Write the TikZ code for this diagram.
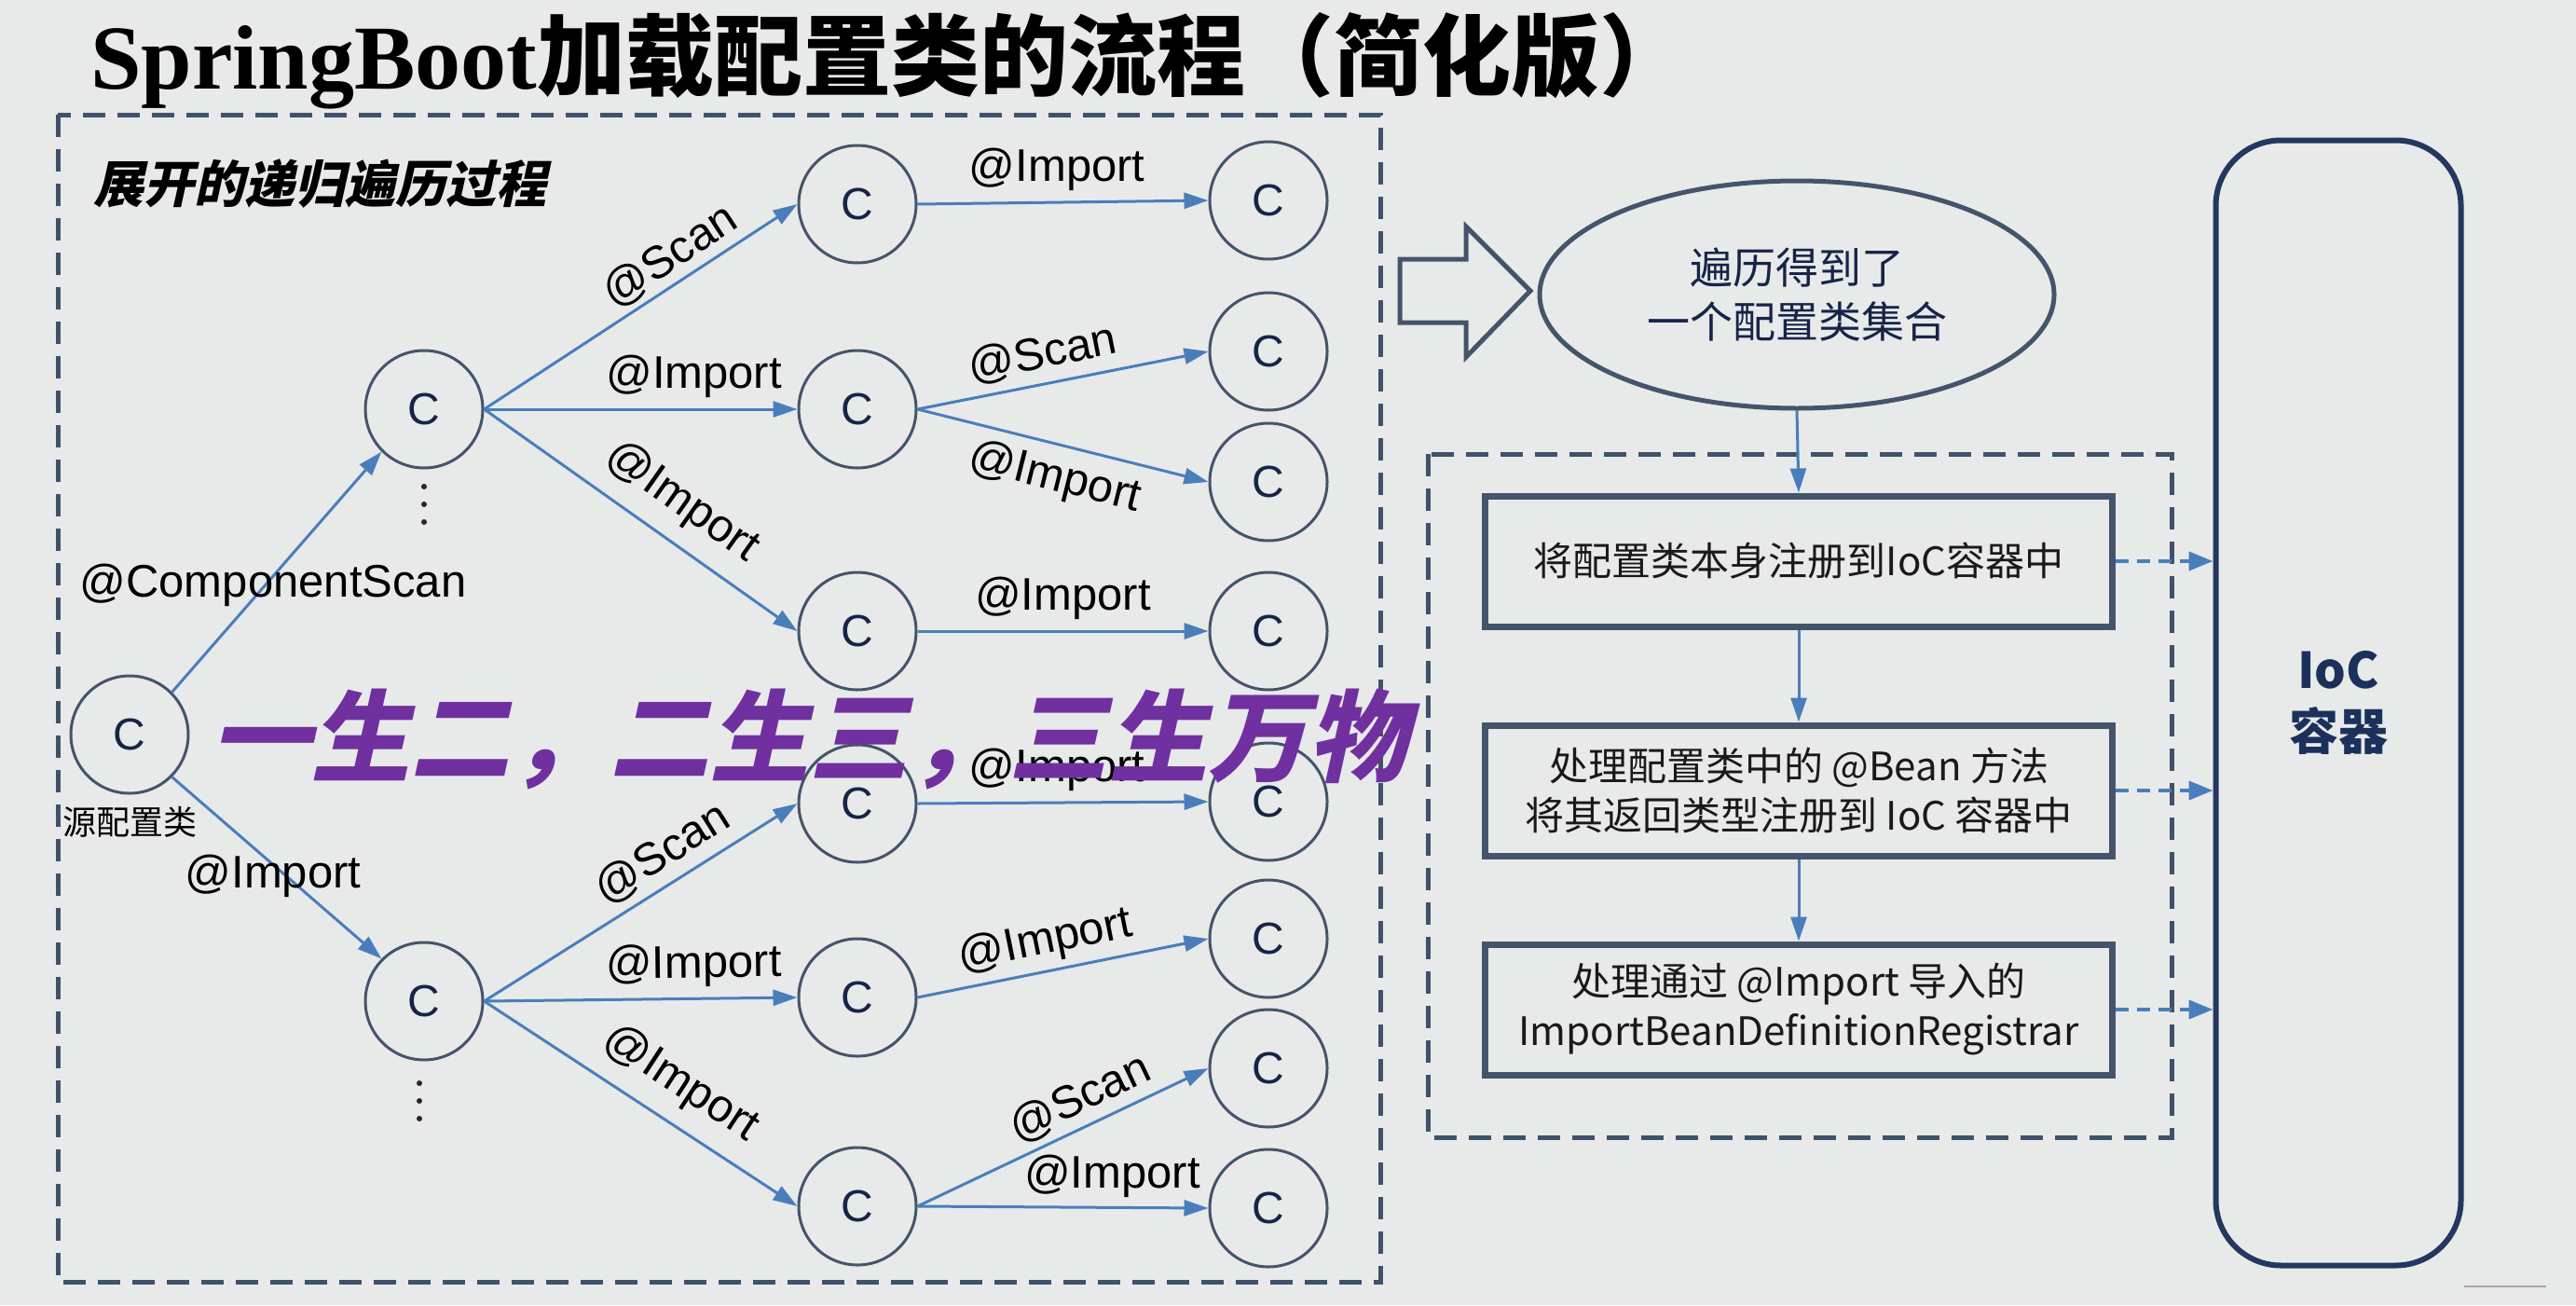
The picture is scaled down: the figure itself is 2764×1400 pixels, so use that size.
\documentclass[tikz,border=0pt]{standalone}
\usepackage{fontspec}
\setmainfont{Liberation Sans}
\newfontfamily\cjk{Noto Sans CJK SC}
\newfontfamily\cjksl[FakeSlant=0.22]{Noto Sans CJK SC}
\newfontfamily\serifT{Liberation Serif}
\usetikzlibrary{arrows.meta,shapes.geometric,calc}
\definecolor{bg}{RGB}{232,234,234}
\definecolor{slate}{RGB}{68,84,106}
\definecolor{steel}{RGB}{74,126,187}
\definecolor{navy}{RGB}{22,36,72}
\definecolor{dashc}{RGB}{63,82,105}
\definecolor{purp}{RGB}{112,48,160}
\definecolor{iocnavy}{RGB}{28,48,92}
\tikzset{
  cnode/.style={circle, draw=slate, line width=3pt, minimum size=126pt, inner sep=0pt,
    font=\fontsize{48}{50}\selectfont, text=navy},
  edge/.style={draw=steel, line width=3pt, -{Triangle[length=26pt,width=17pt]}},
  lbl/.style={font=\fontsize{49}{52}\selectfont, inner sep=3pt, text=black},
  stepbox/.style={draw=slate, line width=7pt, minimum width=673pt, minimum height=140pt,
    inner sep=0pt, align=center, font=\cjk\fontsize{42}{53}\selectfont, text=black!90},
  dashbox/.style={draw=dashc, line width=5pt, dash pattern=on 24pt off 13pt},
  dedge/.style={draw=steel, line width=4pt, dash pattern=on 14pt off 9pt, -{Triangle[length=26pt,width=20pt]}},
  vedge/.style={draw=steel, line width=3pt, -{Triangle[length=26pt,width=17pt]}},
  dotc/.style={circle, fill=black!85, inner sep=0pt, minimum size=6pt}
}
\begin{document}
\begin{tikzpicture}[x=1pt,y=-1pt]
\useasboundingbox (0,0) rectangle (2764,1400);
\fill[bg] (0,0) rectangle (2764,1400);

% title
\node[anchor=base west, inner sep=0pt] (title) at (97,95)
  {{\serifT\bfseries\fontsize{98}{100}\selectfont SpringBoot}{\cjk\bfseries\fontsize{95}{100}\selectfont 加载配置类的流程（简化版）}};

% outer dashed box
\draw[dashbox] (62,123) rectangle (1481,1375);
\node[anchor=west, inner sep=0pt, font=\cjksl\bfseries\fontsize{54}{56}\selectfont] (sub) at (100,197) {展开的递归遍历过程};

% circles
\node[cnode] (S) at (139,788) {C};
\node[inner sep=0pt, font=\cjk\fontsize{36}{38}\selectfont] (Slbl) at (139,882) {源配置类};
\node[cnode] (A) at (455,439) {C};
\node[cnode] (B) at (455,1074) {C};
\node[cnode] (a1) at (920,219) {C};
\node[cnode] (a2) at (920,439) {C};
\node[cnode] (a3) at (920,677) {C};
\node[cnode] (b1) at (920,862) {C};
\node[cnode] (b2) at (920,1070) {C};
\node[cnode] (b3) at (920,1294) {C};
\node[cnode] (a1a) at (1361,215) {C};
\node[cnode] (a2a) at (1361,377) {C};
\node[cnode] (a2b) at (1361,517) {C};
\node[cnode] (a3a) at (1361,677) {C};
\node[cnode] (b1a) at (1361,860) {C};
\node[cnode] (b2a) at (1361,1007) {C};
\node[cnode] (b3a) at (1361,1146) {C};
\node[cnode] (b3b) at (1361,1296) {C};

% vertical dots
\node[dotc] (dA1) at (455,522) {};
\node[dotc] (dA2) at (455,541) {};
\node[dotc] (dA3) at (455,560) {};
\node[dotc] (dB1) at (450,1162) {};
\node[dotc] (dB2) at (450,1181) {};
\node[dotc] (dB3) at (450,1200) {};

% edges level 1
\draw[edge] (S.45) -- (A.225);
\draw[edge] (S.-45) -- (B.135);
\node[lbl] (lcs) at (293,628) {@ComponentScan};
\node[lbl] (lim) at (293,940) {@Import};

% edges level 2
\draw[edge] (A.east) -- node[lbl, sloped, above=2pt, pos=0.64] {@Scan} (a1.west);
\draw[edge] (A.east) -- node[lbl, sloped, above=8pt, pos=0.67] {@Import} (a2.west);
\draw[edge] (A.east) -- node[lbl, sloped, above=14pt, pos=0.56] {@Import} (a3.west);
\draw[edge] (B.east) -- node[lbl, sloped, above=6pt, pos=0.62] {@Scan} (b1.west);
\draw[edge] (B.east) -- node[lbl, sloped, above=8pt, pos=0.67] {@Import} (b2.west);
\draw[edge] (B.east) -- node[lbl, sloped, above=14pt, pos=0.56] {@Import} (b3.west);

% edges level 3
\draw[edge] (a1.east) -- node[lbl, above=8pt, pos=0.48] {@Import} (a1a.west);
\draw[edge] (a2.east) -- node[lbl, sloped, above=6pt, pos=0.45] {@Scan} (a2a.west);
\draw[edge] (a2.east) -- node[lbl, sloped, below=9pt, pos=0.5] {@Import} (a2b.west);
\draw[edge] (a3.east) -- node[lbl, above=8pt, pos=0.5] {@Import} (a3a.west);
\draw[edge] (b1.east) -- node[lbl, above=8pt, pos=0.48] {@Import} (b1a.west);
\draw[edge] (b2.east) -- node[lbl, sloped, above=4pt, pos=0.46] {@Import} (b2a.west);
\draw[edge] (b3.east) -- node[lbl, sloped, above=4pt, pos=0.6] {@Scan} (b3a.west);
\draw[edge] (b3.east) -- node[lbl, above=6pt, pos=0.67] {@Import} (b3b.west);

% purple slogan
\node[anchor=west, inner sep=0pt, text=purp, font=\cjksl\bfseries\fontsize{107}{110}\selectfont] (slogan) at (226,793) {一生二，二生三，三生万物};

% right part
\draw[draw=slate, line width=5pt, line join=miter] (1502,278) -- (1573,278) -- (1573,243) -- (1642,312) -- (1573,383) -- (1573,346) -- (1502,346) -- cycle;
\node[ellipse, draw=slate, line width=5pt, minimum width=552pt, minimum height=244pt, inner sep=0pt,
  align=center, text=navy, font=\cjk\fontsize{46}{58}\selectfont] (set) at (1928,316) {遍历得到了\\一个配置类集合};

\draw[dashbox] (1532,487) rectangle (2330,1220);
\node[stepbox] (s1) at (1930,602) {将配置类本身注册到IoC容器中};
\node[stepbox] (s2) at (1930,848) {处理配置类中的 @Bean 方法\\将其返回类型注册到 IoC 容器中};
\node[stepbox] (s3) at (1930,1083) {处理通过 @Import 导入的\\ImportBeanDefinitionRegistrar};

\node[draw=iocnavy!80!slate, line width=6pt, rounded corners=70pt, minimum width=263pt, minimum height=1207pt,
  inner sep=0pt, align=center, text=iocnavy, font=\cjk\bfseries\fontsize{53}{66}\selectfont] (ioc) at (2509,754) {IoC\\容器};

\draw[vedge] (set.south) -- (s1.north);
\draw[vedge] (s1.south) -- (s2.north);
\draw[vedge] (s2.south) -- (s3.north);
\draw[dedge] (s1.east) -- (s1.east -| ioc.west);
\draw[dedge] (s2.east) -- (s2.east -| ioc.west);
\draw[dedge] (s3.east) -- (s3.east -| ioc.west);

\coordinate (g1) at (2644,1380);
\coordinate (g2) at (2732,1380);
\draw[black!35, line width=2pt] (g1) -- (g2);
\end{tikzpicture}
\end{document}
